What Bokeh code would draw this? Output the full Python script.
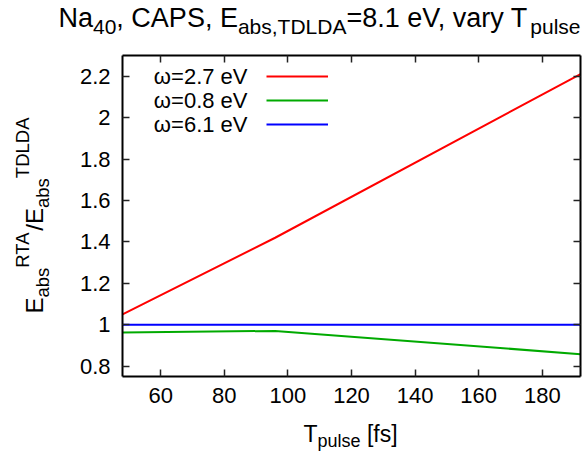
import math
from bokeh.plotting import figure
from bokeh.models import Label, Legend, LegendItem, LinearAxis, FixedTicker, Range1d
from bokeh.embed import file_html
from bokeh.resources import INLINE

# ---------------- data ----------------
T_pulse = [48, 96, 192]
ratio_w27 = [1.05, 1.42, 2.21]
ratio_w08 = [0.963, 0.970, 0.858]
ratio_w61 = [1.0, 1.0, 1.0]
series_labels = ["ω=2.7 eV", "ω=0.8 eV", "ω=6.1 eV"]
series_colors = ["#ff0000", "#00aa00", "#0000ff"]
x_ticks = [60, 80, 100, 120, 140, 160, 180]
x_lim = (48, 192)
y_ticks = [0.8, 1.0, 1.2, 1.4, 1.6, 1.8, 2.0, 2.2]
y_tick_labels = ["0.8", "1", "1.2", "1.4", "1.6", "1.8", "2", "2.2"]
y_lim = (0.75, 2.3)

# ---------------- layout ----------------
W, H = 586, 453
BL, BR, BT, BB = 122, 580, 55, 376   # inner plot box (canvas px)
FONT = "Liberation Sans"

kx = (x_lim[1] - x_lim[0]) / (BR - BL)
ky = (y_lim[1] - y_lim[0]) / (BB - BT)
x0 = x_lim[0] - BL * kx
y1 = y_lim[1] + BT * ky

p = figure(width=W, height=H, x_range=Range1d(x0, x0 + W * kx), y_range=Range1d(y1 - H * ky, y1),
           x_axis_type=None, y_axis_type=None,
           output_backend="svg", toolbar_location=None, min_border=0)
p.title.visible = False
p.outline_line_color = None
p.background_fill_color = "white"

ax_b = LinearAxis(ticker=FixedTicker(ticks=x_ticks), fixed_location=y_lim[0], bounds=x_lim)
ax_t = LinearAxis(ticker=FixedTicker(ticks=x_ticks), fixed_location=y_lim[1], bounds=x_lim)
ax_l = LinearAxis(ticker=FixedTicker(ticks=y_ticks), fixed_location=x_lim[0], bounds=y_lim)
ax_r = LinearAxis(ticker=FixedTicker(ticks=y_ticks), fixed_location=x_lim[1], bounds=y_lim)
ax_l.major_label_overrides = {t: l for t, l in zip(y_ticks, y_tick_labels)}
ax_t.major_label_overrides = {t: "" for t in x_ticks}
ax_r.major_label_overrides = {t: "" for t in y_ticks}
p.add_layout(ax_b, "below")
p.add_layout(ax_t, "above")
p.add_layout(ax_l, "left")
p.add_layout(ax_r, "right")

for ax in [ax_b, ax_t, ax_l, ax_r]:
    ax.major_tick_in = 7
    ax.major_tick_out = 0
    ax.minor_tick_line_color = None
    ax.major_tick_line_color = "#222222"
    ax.major_tick_line_width = 1.5
    ax.axis_line_color = "black"
    ax.axis_line_width = 2
    ax.major_label_text_font = FONT
    ax.major_label_text_font_size = "22px"
    ax.major_label_text_color = "black"
ax_b.major_label_standoff = 11
ax_l.major_label_standoff = 12

renderers = []
for ys, c in zip([ratio_w27, ratio_w08, ratio_w61], series_colors):
    renderers.append(p.line(T_pulse, ys, line_color=c, line_width=2))

# legend: line samples (gnuplot style: text then sample)
leg = Legend(items=[LegendItem(label=" ", renderers=[r]) for r in renderers],
             location=(266, H - 64 - 72), glyph_width=62, glyph_height=24,
             label_height=24, label_width=0, spacing=0, padding=0, margin=0,
             label_standoff=0, label_text_font_size="1px",
             background_fill_alpha=0, border_line_color=None)
p.add_layout(leg)
for i, lab in enumerate(series_labels):
    cy = 76 + 24 * i
    p.add_layout(Label(x=247, y=H - cy, x_units="screen", y_units="screen", text=lab,
                       text_align="right", text_baseline="middle", text_font=FONT,
                       text_font_size="22px", text_color="black"))

# ---------------- rich text helpers ----------------
CW = {'N': 722, 'a': 556, ',': 278, ' ': 278, 'C': 722, 'A': 667, 'P': 667, 'S': 667, 'E': 667,
      'b': 556, 's': 500, 'T': 611, 'D': 722, 'L': 556, '=': 584, '.': 278, 'e': 556, 'V': 667,
      'v': 500, 'r': 333, 'y': 500, 'p': 556, 'u': 556, 'l': 222, '[': 278, 'f': 278, ']': 278,
      'R': 722, '/': 278}
MID = 0.3465  # distance baseline -> middle of font box, in em


def tw(s, size):
    return sum(CW.get(ch, 556) for ch in s) * size / 1000.0


def rich(pieces, cx, cy, F, S, sub=0.25, sup=0.55, vertical=False):
    """pieces: (text, kind) with kind 'n', 'sub' or 'sup'; cx, cy canvas baseline start."""
    pos = 0.0
    for text, kind in pieces:
        size = F if kind == "n" else S
        shift = {"n": 0.0, "sub": -sub * F, "sup": sup * F}[kind]
        stripped = text.lstrip(" ")
        pos += tw(text[:len(text) - len(stripped)], size)
        up = shift + MID * size  # offset of the text middle line above the main baseline
        if not vertical:
            p.add_layout(Label(x=cx + pos, y=H - (cy - up), x_units="screen", y_units="screen",
                               text=stripped, text_align="left", text_baseline="middle",
                               text_font=FONT, text_font_size=f"{size}px", text_color="black"))
        else:
            p.add_layout(Label(x=cx - up, y=H - (cy - pos), x_units="screen", y_units="screen",
                               text=stripped, angle=math.pi / 2, text_align="left",
                               text_baseline="middle", text_font=FONT,
                               text_font_size=f"{size}px", text_color="black"))
        pos += tw(stripped, size)


title_pieces = [("Na", "n"), ("40", "sub"), (", CAPS, E", "n"), ("abs,TDLDA", "sub"),
                ("=8.1 eV, vary T", "n"), ("pulse", "sub")]
rich(title_pieces, 58, 27, 27, 21)

xlab_pieces = [("T", "n"), ("pulse", "sub"), (" [fs]", "n")]
rich(xlab_pieces, 303, 441, 23, 18)

ylab_pieces = [("E", "n"), ("abs", "sub"), ("RTA", "sup"), ("/E", "n"), ("abs", "sub"), ("TDLDA", "sup")]
rich(ylab_pieces, 42, 313, 24, 18.5, vertical=True)

open("out.html", "w").write(file_html(p, INLINE))
